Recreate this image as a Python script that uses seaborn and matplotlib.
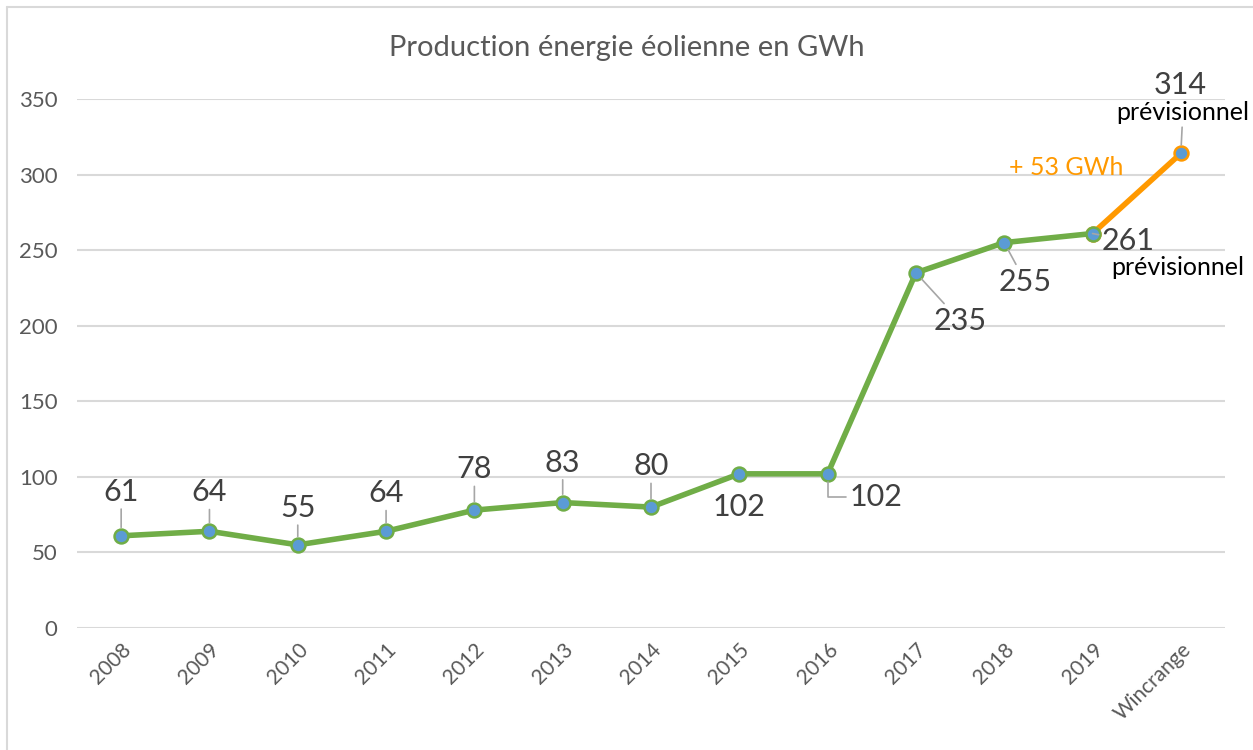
import numpy as np
import pandas as pd
import matplotlib.pyplot as plt
import seaborn as sns
from matplotlib.lines import Line2D

# ============================
# Data
# ============================
years = ['2008', '2009', '2010', '2011', '2012', '2013', '2014',
         '2015', '2016', '2017', '2018', '2019', 'Wincrange']
production = [61, 64, 55, 64, 78, 83, 80, 102, 102, 235, 255, 261, 314]
title = 'Production énergie éolienne en GWh'
gain_label = '+ 53 GWh'
forecast_note = 'prévisionnel'

# label offsets in pixels (dx, dy), up is positive
label_offsets = [(0, 44), (0, 39), (0, 37), (0, 38), (0, 41), (0, 40), (0, 41),
                 (0, -33), (48, -23), (44, -48), (21, -39), (36, -7), (-1, 68)]

green = '#70AD47'
orange = '#FF9900'
blue = '#5B9BD5'
grey_txt = '#404040'
grey_axis = '#595959'
grid_col = '#D9D9D9'
leader_col = '#A6A6A6'

sns.set_theme(style='white')
plt.rcParams['font.family'] = ['Lato', 'DejaVu Sans']

df = pd.DataFrame({'annee': years, 'pos': range(len(years)), 'gwh': production})

W, H = 1253, 750
fig = plt.figure(figsize=(W / 100, H / 100), dpi=100)
ax = fig.add_axes([77 / W, 1 - 628 / H, (1225 - 77) / W, (628 - 99) / H])

# chart frame
fig.add_artist(Line2D([7 / W, 7 / W], [0, 1 - 7 / H], color=grid_col, lw=1.5))
fig.add_artist(Line2D([7 / W, 1], [1 - 7 / H, 1 - 7 / H], color=grid_col, lw=1.5))

# forecast segment first, then the measured line on top
sns.lineplot(data=df.iloc[11:], x='pos', y='gwh', color=orange, lw=4,
             marker='o', markersize=10, markerfacecolor=blue,
             markeredgecolor=orange, markeredgewidth=1.8, ax=ax)
sns.lineplot(data=df.iloc[:12], x='pos', y='gwh', color=green, lw=4,
             marker='o', markersize=10, markerfacecolor=blue,
             markeredgecolor=green, markeredgewidth=1.8, ax=ax)

ax.set_xlim(-0.5, len(years) - 0.5)
ax.set_ylim(0, 350)
ax.set_yticks(np.arange(0, 351, 50))
ax.set_xticks(df['pos'])
ax.set_xticklabels(years, rotation=45, ha='right', rotation_mode='anchor')
ax.tick_params(axis='both', colors=grey_axis, length=0)
ax.tick_params(axis='y', pad=14, labelsize=16)
ax.tick_params(axis='x', pad=8, labelsize=15)
ax.grid(axis='y', color=grid_col, lw=1.5)
ax.set_axisbelow(True)
for s in ax.spines.values():
    s.set_visible(False)
ax.set_xlabel('')
ax.set_ylabel('')

fig.text(0.5, 1 - 48 / H, title, ha='center', va='center',
         fontsize=21, color=grey_axis)

# data labels
for i, (v, (dx, dy)) in enumerate(zip(production, label_offsets)):
    if i in (7, 12):
        arrow = None
    elif i == 8:
        arrow = dict(arrowstyle='-', color=leader_col, lw=1.2, shrinkA=0, shrinkB=6,
                     connectionstyle='angle,angleA=0,angleB=90,rad=0')
    else:
        arrow = dict(arrowstyle='-', color=leader_col, lw=1.2, shrinkA=0, shrinkB=6)
    ax.annotate(str(v), xy=(i, v), xytext=(dx, dy), textcoords='offset pixels',
                ha='center', va='center', fontsize=22, color=grey_txt,
                arrowprops=arrow, annotation_clip=False)

# forecast notes
ax.annotate(forecast_note, xy=(12, production[12]), xytext=(2, 41),
            textcoords='offset pixels', ha='center', va='center', fontsize=18,
            color='black', annotation_clip=False,
            arrowprops=dict(arrowstyle='-', color=leader_col, lw=1.2, shrinkA=0, shrinkB=6))
ax.annotate(forecast_note, xy=(11, production[11]), xytext=(85, -34),
            textcoords='offset pixels', ha='center', va='center', fontsize=18,
            color='black', annotation_clip=False)

# gain between 2019 and Wincrange
ax.annotate(gain_label, xy=(11.5, (production[11] + production[12]) / 2),
            xytext=(-71, 26), textcoords='offset pixels', ha='center', va='center',
            fontsize=18, color=orange, annotation_clip=False)

fig.savefig('out.png', dpi=100)
